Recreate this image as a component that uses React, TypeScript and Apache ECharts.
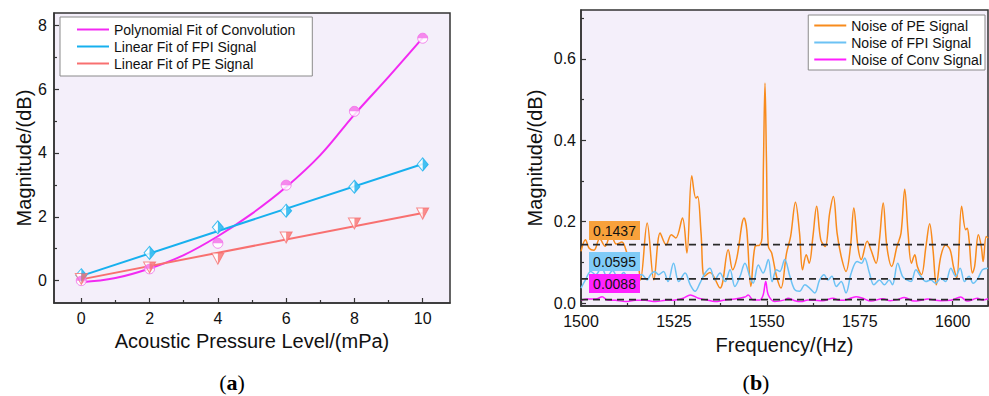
import React, { useEffect, useRef } from 'react';
import * as echarts from 'echarts';

const FONT = '"Liberation Sans", Arial, Helvetica, sans-serif';
const SERIF = '"Liberation Serif", "Times New Roman", serif';
const BG = '#F4EFFA';
const AXIS = '#333333';

// ---------- panel (a) ----------
const pressure = [0, 2, 4, 6, 8, 10];
const convPoints = [0.0, 0.37, 1.17, 2.99, 5.3, 7.59];
const fpiPoints = [0.17, 0.87, 1.67, 2.19, 2.94, 3.64];
const pePoints = [0.05, 0.41, 0.69, 1.35, 1.79, 2.1];
const convFitX = [0, 1, 2, 3, 4, 5, 6, 7, 8, 9, 10];
const convFitY = [-0.05, 0.08, 0.38, 0.8, 1.39, 2.1, 2.93, 3.93, 5.2, 6.38, 7.6];
const fpiFitX = [0, 10];
const fpiFitY = [0.15, 3.65];
const peFitX = [0, 10];
const peFitY = [0.04, 2.12];
const pressureTicks = [0, 2, 4, 6, 8, 10];
const pressureMinor = [1, 3, 5, 7, 9];
const magTicksA = [0, 2, 4, 6, 8];
const magMinorA = [1, 3, 5, 7];

// ---------- panel (b) ----------
const peNoise: [number, number][] = [
  [1500, 0.127], [1501.2, 0.156], [1502.2, 0.135], [1503.5, 0.13], [1505, 0.158], [1506.5, 0.14],
  [1508, 0.17], [1509.5, 0.145], [1511, 0.15], [1512.5, 0.12], [1514, 0.095], [1515, 0.115],
  [1516, 0.057], [1517.8, 0.197], [1519.6, 0.057], [1521.3, 0.172], [1522.9, 0.143], [1524.3, 0.168],
  [1525.5, 0.16], [1527.3, 0.209], [1528.5, 0.123], [1529.8, 0.313], [1530.9, 0.258], [1531.4, 0.262],
  [1532.3, 0.172], [1533.2, 0.066], [1534.7, 0.075], [1537.4, 0.037], [1539.6, 0.131], [1540.8, 0.082],
  [1541.9, 0.11], [1543.9, 0.209], [1544.6, 0.18], [1545.7, 0.041], [1546.8, 0.139], [1548.1, 0.143],
  [1548.7, 0.16], [1549.1, 0.35], [1549.5, 0.541], [1549.9, 0.35], [1550.4, 0.139], [1551.3, 0.123],
  [1552.6, 0.066], [1553.8, 0.037], [1555.3, 0.123], [1556.4, 0.164], [1557.7, 0.248], [1558.8, 0.172],
  [1559.6, 0.082], [1560.6, 0.119], [1561.4, 0.098], [1562.4, 0.164], [1563.4, 0.238], [1564.5, 0.156],
  [1565.7, 0.139], [1566.9, 0.221], [1567.9, 0.262], [1568.9, 0.172], [1570, 0.115], [1571.3, 0.078],
  [1572.5, 0.139], [1573.4, 0.234], [1574.5, 0.139], [1575.4, 0.107], [1577, 0.152], [1578, 0.131],
  [1579.4, 0.098], [1580.3, 0.156], [1581.3, 0.246], [1582.3, 0.139], [1583.6, 0.09], [1585, 0.139],
  [1586.1, 0.172], [1587.1, 0.28], [1588, 0.172], [1588.9, 0.098], [1589.8, 0.119], [1590.5, 0.09],
  [1591.6, 0.07], [1592.8, 0.139], [1593.8, 0.195], [1594.7, 0.131], [1595.6, 0.045], [1596.8, 0.115],
  [1598.1, 0.143], [1599.3, 0.131], [1600.2, 0.09], [1601.1, 0.061], [1602.4, 0.238], [1603.5, 0.18],
  [1603.9, 0.184], [1604.4, 0.156], [1605.3, 0.074], [1605.9, 0.09], [1606.9, 0.168], [1607.7, 0.139],
  [1608.2, 0.102], [1609, 0.164], [1609.5, 0.16],
];
const fpiNoise: [number, number][] = [
  [1500, 0.037], [1501.2, 0.057], [1502.6, 0.078], [1504, 0.07], [1505.5, 0.088], [1507, 0.065],
  [1508.5, 0.08], [1510, 0.06], [1511.5, 0.075], [1513, 0.055], [1514.5, 0.07], [1516.4, 0.07],
  [1517.8, 0.057], [1518.7, 0.07], [1519.8, 0.078], [1520.9, 0.07], [1522.2, 0.078], [1523.4, 0.053],
  [1524.9, 0.098], [1526.3, 0.053], [1528, 0.074], [1529.4, 0.045], [1530.7, 0.029], [1532, 0.049],
  [1533.4, 0.074], [1534.7, 0.086], [1536, 0.057], [1537.4, 0.074], [1538.8, 0.053], [1540.1, 0.082],
  [1541.4, 0.041], [1542.8, 0.066], [1544.1, 0.098], [1545.4, 0.066], [1546.3, 0.049], [1547.7, 0.094],
  [1549, 0.074], [1550.4, 0.107], [1551.4, 0.053], [1552.6, 0.082], [1553.5, 0.078], [1554.8, 0.107],
  [1556.2, 0.066], [1557.5, 0.033], [1558.8, 0.029], [1560.2, 0.045], [1561.5, 0.037], [1562.9, 0.025],
  [1564.2, 0.057], [1565.4, 0.07], [1566.4, 0.057], [1567.5, 0.066], [1568.7, 0.041], [1570, 0.053],
  [1571.3, 0.025], [1572.7, 0.074], [1574.3, 0.102], [1575.5, 0.098], [1576.3, 0.111], [1577.6, 0.074],
  [1578.8, 0.045], [1580.3, 0.057], [1581.6, 0.045], [1582.9, 0.057], [1583.8, 0.045], [1585.2, 0.098],
  [1586.5, 0.066], [1587.7, 0.057], [1588.8, 0.053], [1590.1, 0.082], [1591.4, 0.066], [1592.8, 0.053],
  [1594.1, 0.057], [1595.4, 0.049], [1596.8, 0.061], [1598.1, 0.053], [1599.5, 0.086], [1600.8, 0.066],
  [1602, 0.086], [1603.2, 0.053], [1604.4, 0.066], [1605.5, 0.049], [1606.8, 0.061], [1608, 0.082],
  [1609.5, 0.086],
];
const convNoise: [number, number][] = [
  [1500, 0.008], [1502, 0.01], [1504, 0.01], [1505.7, 0.016], [1507, 0.008], [1509.3, 0.007],
  [1512, 0.004], [1514.6, 0.007], [1517.3, 0.007], [1520, 0.004], [1522.7, 0.007], [1525.4, 0.008],
  [1527.5, 0.012], [1529.4, 0.02], [1531.6, 0.012], [1533.8, 0.008], [1536, 0.004], [1538.8, 0.008],
  [1541.4, 0.01], [1544.1, 0.015], [1545, 0.02], [1546.3, 0.008], [1548.1, 0.008], [1549, 0.02],
  [1549.7, 0.053], [1550.4, 0.02], [1552.1, 0.004], [1554.8, 0.008], [1555.7, 0.012], [1557.5, 0.006],
  [1559.3, 0.004], [1561, 0.008], [1563, 0.007], [1565, 0.006], [1567.8, 0.012], [1569.5, 0.007],
  [1571.3, 0.008], [1574, 0.016], [1575.8, 0.012], [1578, 0.005], [1581.2, 0.011], [1583.2, 0.006],
  [1585, 0.008], [1587, 0.014], [1589.6, 0.005], [1591.5, 0.007], [1593.2, 0.01], [1596.8, 0.006],
  [1599.5, 0.007], [1602.1, 0.015], [1604, 0.005], [1606.6, 0.012], [1608, 0.008], [1609.5, 0.011],
];
const thresholds = [0.1437, 0.0595, 0.0088];
const thresholdLabels = ['0.1437', '0.0595', '0.0088'];
const magTicksB = [0, 0.2, 0.4, 0.6];
const magMinorB = [0.1, 0.3, 0.5, 0.7];

const C_CONV = '#F22AF2';
const C_CONV_M = '#F36BE8';
const C_FPI = '#17B0EE';
const C_PE = '#F87070';
const N_PE = '#F88B1C';
const N_FPI = '#6CC2F4';
const N_CONV = '#FF1FFF';
const BOX_COLORS = ['#F8A13B', '#80CBF7', '#FF22FF'];

const zip = (xs: number[], ys: number[]) => xs.map((x, i) => [x, ys[i]]);

function markerPair(ys: number[], outline: string, half: string, size: number[], color: string) {
  const data = zip(pressure, ys);
  return [
    {
      type: 'scatter', xAxisIndex: 0, yAxisIndex: 0, data, symbol: outline, symbolSize: size,
      itemStyle: { color: '#FFFFFF', borderColor: color, borderWidth: 1 }, z: 5, silent: true,
    },
    {
      type: 'scatter', xAxisIndex: 0, yAxisIndex: 0, data, symbol: half, symbolSize: size,
      itemStyle: { color, borderWidth: 0 }, z: 6, silent: true,
    },
  ];
}

function buildOption() {
  const tickLabel = { fontFamily: FONT, fontSize: 16, color: '#111' };
  const nameStyle = { fontFamily: FONT, fontSize: 20, color: '#111' };
  const axisLine = { show: true, onZero: false, lineStyle: { color: AXIS, width: 1.5 } };
  const legendText = { fontFamily: FONT, fontSize: 14, color: '#111' };

  const graphics: any[] = [];
  thresholdLabels.forEach((t, i) => {
    const y = [221, 252, 274][i];
    graphics.push({ type: 'rect', shape: { x: 589, y, width: 51, height: 19 }, style: { fill: BOX_COLORS[i] }, z: 20 });
    graphics.push({
      type: 'text', x: 614.5, y: y + 9.5, z: 21,
      style: { text: t, font: `14px ${FONT}`, fill: '#111', align: 'center', verticalAlign: 'middle', textAlign: 'center', textVerticalAlign: 'middle' },
    });
  });
  const panelLabel = (letter: string, x: number) => ({
    type: 'text', x, y: 382, z: 21,
    style: {
      text: `{n|(}{b|${letter}}{n|)}`, align: 'center', verticalAlign: 'middle', textAlign: 'center', textVerticalAlign: 'middle',
      rich: {
        n: { fontFamily: SERIF, fontSize: 22, color: '#111' },
        b: { fontFamily: SERIF, fontSize: 22, fontWeight: 'bold', color: '#111' },
      },
    },
  });
  graphics.push(panelLabel('a', 232));
  graphics.push(panelLabel('b', 756));

  const legendBase = {
    orient: 'vertical', itemWidth: 32, itemHeight: 2, itemGap: 2, icon: 'rect',
    borderColor: '#8a8a8a', borderWidth: 1, backgroundColor: '#FFFFFF',
    textStyle: { ...legendText, lineHeight: 15 }, selectedMode: false,
  };

  return {
    animation: false,
    backgroundColor: '#FFFFFF',
    grid: [
      { left: 54, top: 13, width: 396, height: 290, show: true, backgroundColor: BG, borderColor: AXIS, borderWidth: 1.5 },
      { left: 581, top: 10, width: 407, height: 296, show: true, backgroundColor: BG, borderColor: AXIS, borderWidth: 1.5 },
    ],
    legend: [
      {
        ...legendBase,
        data: ['Polynomial Fit of Convolution', 'Linear Fit of FPI Signal', 'Linear Fit of PE Signal'],
        left: 60, top: 17, padding: [5, 17, 5, 17],
      },
      {
        ...legendBase,
        data: ['Noise of PE Signal', 'Noise of FPI Signal', 'Noise of Conv Signal'],
        right: 4, top: 15, padding: [3, 3, 3, 6],
      },
    ],
    xAxis: [
      {
        type: 'value', gridIndex: 0, min: -0.8, max: 10.8, position: 'bottom',
        axisLine, splitLine: { show: false },
        axisTick: { show: true, inside: true, length: 5, customValues: pressureTicks, lineStyle: { color: AXIS, width: 1.2 } },
        axisLabel: { ...tickLabel, margin: 7, customValues: pressureTicks },
        name: 'Acoustic Pressure Level/(mPa)', nameLocation: 'middle', nameGap: 28, nameTextStyle: nameStyle,
      },
      {
        type: 'value', gridIndex: 0, min: -0.8, max: 10.8, position: 'bottom',
        axisLine: { show: false, onZero: false }, splitLine: { show: false }, axisLabel: { show: false },
        axisTick: { show: true, inside: true, length: 3, customValues: pressureMinor, lineStyle: { color: AXIS, width: 1.2 } },
      },
      {
        type: 'value', gridIndex: 1, min: 1500, max: 1609.5, interval: 25, position: 'bottom',
        axisLine, splitLine: { show: false },
        axisTick: { show: true, inside: true, length: 5, lineStyle: { color: AXIS, width: 1.2 } },
        minorTick: { show: true, splitNumber: 2, length: 3, lineStyle: { color: AXIS, width: 1.2 } },
        axisLabel: { ...tickLabel, margin: 7, showMaxLabel: false, formatter: (v: number) => String(Math.round(v)) },
        name: 'Frequency/(Hz)', nameLocation: 'middle', nameGap: 29, nameTextStyle: nameStyle,
      },
    ],
    yAxis: [
      {
        type: 'value', gridIndex: 0, min: -0.7, max: 8.38, position: 'left',
        axisLine, splitLine: { show: false },
        axisTick: { show: true, inside: true, length: 5, customValues: magTicksA, lineStyle: { color: AXIS, width: 1.2 } },
        axisLabel: { ...tickLabel, margin: 7, customValues: magTicksA },
        name: 'Magnitude/(dB)', nameLocation: 'middle', nameGap: 19, nameTextStyle: nameStyle,
      },
      {
        type: 'value', gridIndex: 0, min: -0.7, max: 8.38, position: 'left',
        axisLine: { show: false, onZero: false }, splitLine: { show: false }, axisLabel: { show: false },
        axisTick: { show: true, inside: true, length: 3, customValues: magMinorA, lineStyle: { color: AXIS, width: 1.2 } },
      },
      {
        type: 'value', gridIndex: 1, min: -0.007, max: 0.72, position: 'left',
        axisLine, splitLine: { show: false },
        axisTick: { show: true, inside: true, length: 5, customValues: magTicksB, lineStyle: { color: AXIS, width: 1.2 } },
        axisLabel: { ...tickLabel, margin: 5, customValues: magTicksB, formatter: (v: number) => v.toFixed(1) },
        name: 'Magnitude/(dB)', nameLocation: 'middle', nameGap: 36, nameTextStyle: nameStyle,
      },
      {
        type: 'value', gridIndex: 1, min: -0.007, max: 0.72, position: 'left',
        axisLine: { show: false, onZero: false }, splitLine: { show: false }, axisLabel: { show: false },
        axisTick: { show: true, inside: true, length: 3, customValues: magMinorB, lineStyle: { color: AXIS, width: 1.2 } },
      },
    ],
    series: [
      {
        name: 'Polynomial Fit of Convolution', type: 'line', xAxisIndex: 0, yAxisIndex: 0,
        data: zip(convFitX, convFitY), smooth: 0.4, symbol: 'none', lineStyle: { color: C_CONV, width: 2 }, itemStyle: { color: C_CONV }, z: 3,
      },
      {
        name: 'Linear Fit of FPI Signal', type: 'line', xAxisIndex: 0, yAxisIndex: 0,
        data: zip(fpiFitX, fpiFitY), symbol: 'none', lineStyle: { color: C_FPI, width: 2 }, itemStyle: { color: C_FPI }, z: 3,
      },
      {
        name: 'Linear Fit of PE Signal', type: 'line', xAxisIndex: 0, yAxisIndex: 0,
        data: zip(peFitX, peFitY), symbol: 'none', lineStyle: { color: C_PE, width: 2 }, itemStyle: { color: C_PE }, z: 3,
      },
      ...markerPair(convPoints, 'circle', 'path://M-1,0 A1,1 0 0 1 1,0 Z M0,1', [10, 10], C_CONV_M),
      ...markerPair(fpiPoints, 'diamond', 'path://M-1,0 M0,-1 L1,0 L0,1 Z', [11, 13], C_FPI),
      ...markerPair(pePoints, 'path://M-1,-1 L1,-1 L0,1 Z', 'path://M-1,-1 M0,-1 L1,-1 L0,1 Z', [12, 11], C_PE),
      {
        name: 'Noise of PE Signal', type: 'line', xAxisIndex: 2, yAxisIndex: 2, data: peNoise, smooth: 0.35,
        symbol: 'none', lineStyle: { color: N_PE, width: 1.5 }, itemStyle: { color: N_PE }, z: 3,
      },
      {
        name: 'Noise of FPI Signal', type: 'line', xAxisIndex: 2, yAxisIndex: 2, data: fpiNoise, smooth: 0.35,
        symbol: 'none', lineStyle: { color: N_FPI, width: 1.5 }, itemStyle: { color: N_FPI }, z: 3,
      },
      {
        name: 'Noise of Conv Signal', type: 'line', xAxisIndex: 2, yAxisIndex: 2, data: convNoise, smooth: 0.35,
        symbol: 'none', lineStyle: { color: N_CONV, width: 1.5 }, itemStyle: { color: N_CONV }, z: 3,
      },
      ...thresholds.map((t) => ({
        type: 'line', xAxisIndex: 2, yAxisIndex: 2, data: [[1500, t], [1609.5, t]], symbol: 'none', silent: true,
        lineStyle: { color: '#2a2a2a', width: 1.7, type: [7, 5] }, z: 8,
      })),
    ],
    graphic: graphics,
  };
}

export default function App() {
  const ref = useRef<HTMLDivElement>(null);
  useEffect(() => {
    if (!ref.current) return;
    const chart = echarts.init(ref.current, null, { renderer: 'svg', width: 989, height: 396 });
    chart.setOption(buildOption() as any);
    return () => chart.dispose();
  }, []);
  return <div ref={ref} style={{ position: 'absolute', left: 0, top: 0, width: 989, height: 396 }} />;
}
